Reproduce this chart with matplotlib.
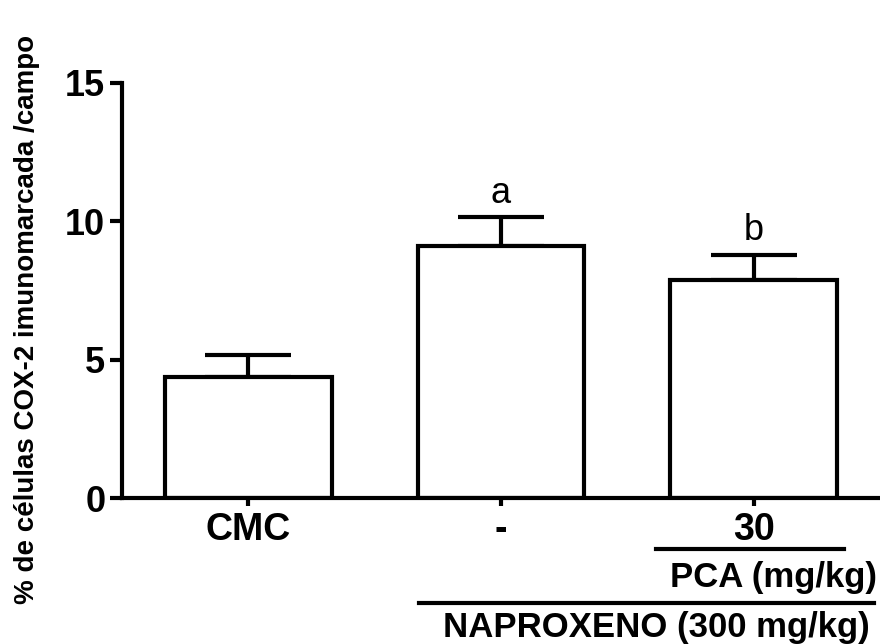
import matplotlib.pyplot as plt

groups = ["CMC", "-", "30"]
means = [4.37, 9.10, 7.87]
sem = [0.80, 1.04, 0.92]
letters = ["", "a", "b"]

plt.rcParams['font.family'] = ['Liberation Sans', 'DejaVu Sans']

fig = plt.figure(figsize=(8.8, 6.44), dpi=100)
ax = fig.add_axes([122 / 880, 1 - 498 / 644, 758 / 880, 415 / 644])

x = range(len(groups))
ax.bar(x, means, width=0.66, color='white', edgecolor='black', linewidth=3, zorder=2)
ax.errorbar(x, means, yerr=[[0] * len(sem), sem], fmt='none', ecolor='black',
            elinewidth=3, capsize=31, capthick=3, zorder=1)

# significance letters above the error bars
for i, (m, s, t) in enumerate(zip(means, sem, letters)):
    if t:
        ax.text(i, m + s + 0.52, t, ha='center', va='baseline', fontsize=26)

ax.set_xlim(-0.5, 2.5)
ax.set_ylim(0, 15)
ax.set_yticks([0, 5, 10, 15])
ax.set_xticks(list(x))
ax.set_xticklabels(groups, fontsize=27, fontweight='bold')
ax.tick_params(axis='y', labelsize=26, width=3, length=9, pad=3)
ax.tick_params(axis='x', width=3, length=6, pad=4)
for lbl in ax.get_yticklabels():
    lbl.set_fontweight('bold')
ax.spines['top'].set_visible(False)
ax.spines['right'].set_visible(False)
ax.spines['left'].set_linewidth(3)
ax.spines['bottom'].set_linewidth(3)

ax.set_ylabel('% de células COX-2 imunomarcada /campo', fontsize=20, fontweight='bold')
ax.yaxis.set_label_coords(-0.108, 0.43)

# group annotations under the x axis
line_y1 = 1 - 549 / 644
line_y2 = 1 - 603 / 644
fig.add_artist(plt.Line2D([656 / 880, 844 / 880], [line_y1, line_y1], color='black', linewidth=3))
fig.add_artist(plt.Line2D([419 / 880, 874 / 880], [line_y2, line_y2], color='black', linewidth=3))
fig.text(877 / 880, 1 - 577 / 644, 'PCA (mg/kg)', ha='right', va='center', fontsize=25, fontweight='bold')
fig.text(870 / 880, 1 - 628 / 644, 'NAPROXENO (300 mg/kg)', ha='right', va='center', fontsize=25, fontweight='bold')

fig.savefig('out.png', dpi=100)
